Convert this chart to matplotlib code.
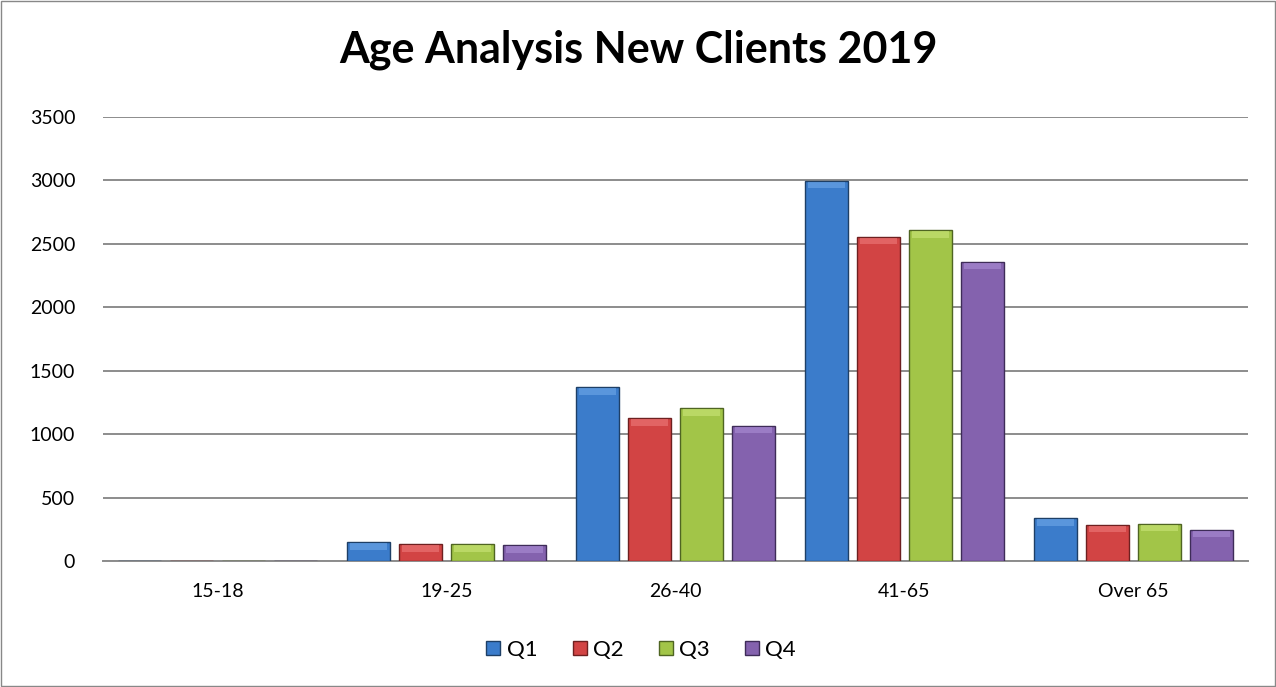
import matplotlib.pyplot as plt
from matplotlib.patches import Rectangle
from matplotlib.lines import Line2D
import numpy as np

plt.rcParams['font.family'] = ['Lato', 'DejaVu Sans']

categories = ['15-18', '19-25', '26-40', '41-65', 'Over 65']
series = ['Q1', 'Q2', 'Q3', 'Q4']
q1 = [2, 147, 1370, 2995, 337]
q2 = [2, 131, 1125, 2553, 284]
q3 = [2, 131, 1204, 2608, 292]
q4 = [2, 124, 1067, 2356, 244]
values = [q1, q2, q3, q4]

face = ['#3B7CCB', '#D24444', '#A2C548', '#8462AE']
edge = ['#1E3F66', '#6E2020', '#4F6522', '#3E2C58']
light = ['#6FA8E8', '#EE7A7A', '#CBE57A', '#AC8ED6']

fig = plt.figure(figsize=(12.76, 6.87), dpi=100)
ax = fig.add_axes([0.0807, 0.1834, 0.8973, 0.6463])

x = np.arange(len(categories))
width = 0.185
step = 0.227
for i, (name, vals) in enumerate(zip(series, values)):
    pos = x + (i - 1.5) * step
    ax.bar(pos, vals, width=width, color=face[i], edgecolor=edge[i],
           linewidth=1.0, zorder=3, label=name)
    # bevel highlight along the top of each bar
    cap = np.minimum(np.array(vals, dtype=float), 50)
    ax.bar(pos, cap, width=width * 0.86, bottom=np.array(vals) - cap - 8,
           color=light[i], linewidth=0, zorder=4, alpha=0.6)

ax.set_xlim(-0.5, len(categories) - 0.5)
ax.set_ylim(0, 3500)
ax.set_yticks(range(0, 3501, 500))
ax.set_xticks(x)
ax.set_xticklabels(categories)
ax.yaxis.grid(True, color='#8C8C8C', linewidth=1.4, zorder=0)
ax.set_axisbelow(True)
for s in ['top', 'right', 'left']:
    ax.spines[s].set_visible(False)
ax.spines['bottom'].set_color('#8C8C8C')
ax.spines['bottom'].set_linewidth(1.4)
ax.tick_params(axis='both', length=0, labelsize=14, colors='black')
ax.tick_params(axis='y', pad=20)
ax.tick_params(axis='x', pad=16)

fig.text(0.5, 0.927, 'Age Analysis New Clients 2019', ha='center', va='center',
         fontsize=31, fontweight='bold')

handles = [Line2D([], [], marker='s', linestyle='', markersize=10,
                  markerfacecolor=face[i], markeredgecolor=edge[i])
           for i in range(len(series))]
fig.legend(handles, series, loc='center', bbox_to_anchor=(0.5, 0.054),
           ncol=4, frameon=False, fontsize=16, handletextpad=0.0,
           columnspacing=1.3, handlelength=1.2)

fig.patches.append(Rectangle((0.001, 0.001), 0.998, 0.997, transform=fig.transFigure,
                             fill=False, edgecolor='#888888', linewidth=1.0))

fig.savefig('out.png', dpi=100)
